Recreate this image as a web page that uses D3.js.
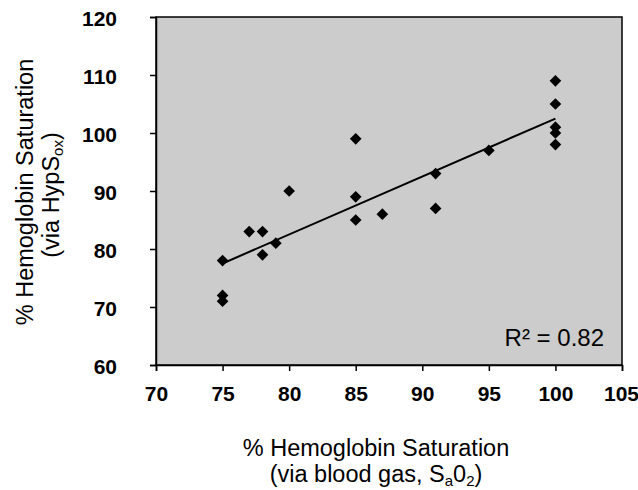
<!DOCTYPE html>
<html>
<head>
<meta charset="utf-8">
<script src="https://cdn.jsdelivr.net/npm/d3@7"></script>
<style>
  body { margin: 0; background: #fff; }
  text { font-family: "Liberation Sans", Arial, sans-serif; fill: #000; }
</style>
</head>
<body>
<div id="wrapper"></div>
<script>
// values
const sa02 = [75, 75, 75, 77, 78, 78, 79, 80, 85, 85, 85, 87, 91, 91, 95, 100, 100, 100, 100, 100];
const hypsox = [78, 72, 71, 83, 83, 79, 81, 90, 99, 89, 85, 86, 93, 87, 97, 109, 105, 101, 100, 98];
const xTicks = [70, 75, 80, 85, 90, 95, 100, 105];
const yTicks = [60, 70, 80, 90, 100, 110, 120];
const r2Label = "R² = 0.82";

function drawChart() {
    const width = 638;
    const height = 490;
    const left = 156, right = 622, top = 17, bottom = 365;

    const svg = d3.select("#wrapper")
        .append("svg")
        .attr("width", width)
        .attr("height", height);

    const xScale = d3.scaleLinear()
        .domain([70, 105])
        .range([left, right]);

    const yScale = d3.scaleLinear()
        .domain([60, 120])
        .range([bottom, top]);

    // plot area
    svg.append("rect")
        .attr("x", left)
        .attr("y", top)
        .attr("width", right - left)
        .attr("height", bottom - top)
        .attr("fill", "#cccccc")
        .attr("stroke", "#000")
        .attr("stroke-width", 1.5);

    const xAxis = svg.append("g")
        .attr("transform", `translate(0,${bottom})`)
        .call(d3.axisBottom(xScale).tickValues(xTicks).tickSize(6).tickPadding(10));
    const yAxis = svg.append("g")
        .attr("transform", `translate(${left},0)`)
        .call(d3.axisLeft(yScale).tickValues(yTicks).tickSize(6));

    [xAxis, yAxis].forEach(ax => {
        ax.select(".domain").attr("stroke", "#000").attr("stroke-width", 1.5);
        ax.selectAll(".tick line").attr("stroke", "#000").attr("stroke-width", 1.5);
        ax.selectAll("text")
            .attr("font-family", "Liberation Sans, Arial, sans-serif")
            .attr("font-size", 21)
            .attr("font-weight", "bold")
            .attr("fill", "#000");
    });
    yAxis.selectAll("text").attr("x", -39).attr("dy", "0.42em").attr("text-anchor", "end");
    xAxis.selectAll("text").attr("dy", "0.95em");
    xAxis.selectAll(".tick").filter(d => d === 105).select("text").attr("x", -1);

    // least squares fit
    const pts = sa02.map((x, i) => ({x: x, y: hypsox[i]}));
    const mx = d3.mean(sa02), my = d3.mean(hypsox);
    const slope = d3.sum(pts, d => (d.x - mx) * (d.y - my)) / d3.sum(pts, d => (d.x - mx) ** 2);
    const icept = my - slope * mx;
    const xr = d3.extent(sa02);

    svg.append("line")
        .attr("x1", xScale(xr[0]))
        .attr("y1", yScale(icept + slope * xr[0]))
        .attr("x2", xScale(xr[1]))
        .attr("y2", yScale(icept + slope * xr[1]))
        .attr("stroke", "#000")
        .attr("stroke-width", 2);

    svg.selectAll(".pt")
        .data(pts)
        .enter().append("path")
        .attr("class", "pt")
        .attr("d", d3.symbol(d3.symbolSquare, 68))
        .attr("transform", d => `translate(${xScale(d.x)},${yScale(d.y)}) rotate(45)`)
        .attr("fill", "#000");

    svg.append("text")
        .attr("x", 604)
        .attr("y", 346)
        .attr("text-anchor", "end")
        .attr("font-size", 24)
        .text(r2Label);

    // x title
    const xt = svg.append("text")
        .attr("text-anchor", "middle")
        .attr("font-size", 23.5);
    xt.append("tspan").attr("x", 376).attr("y", 456).text("% Hemoglobin Saturation");
    const xt2 = xt.append("tspan").attr("x", 376).attr("y", 482);
    xt2.append("tspan").text("(via blood gas, S");
    xt2.append("tspan").attr("font-size", 15).attr("dy", 4).text("a");
    xt2.append("tspan").attr("dy", -4).text("0");
    xt2.append("tspan").attr("font-size", 15).attr("dy", 4).text("2");
    xt2.append("tspan").attr("dy", -4).text(")");

    // y title
    const yt = svg.append("text")
        .attr("transform", "rotate(-90)")
        .attr("text-anchor", "middle")
        .attr("font-size", 23.5);
    yt.append("tspan").attr("x", -192).attr("y", 33).text("% Hemoglobin Saturation");
    const yt2 = yt.append("tspan").attr("x", -195).attr("y", 59);
    yt2.append("tspan").text("(via HypS");
    yt2.append("tspan").attr("font-size", 15).attr("dy", 4).text("ox");
    yt2.append("tspan").attr("dy", -4).text(")");
}
drawChart();
</script>
</body>
</html>
